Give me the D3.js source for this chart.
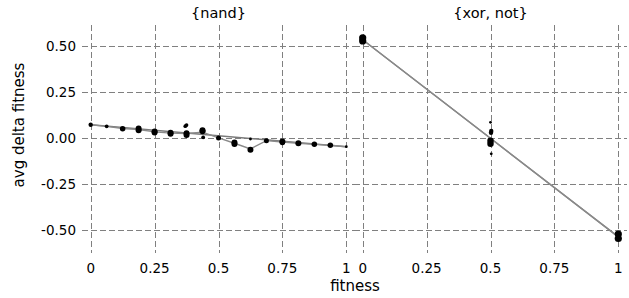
<!DOCTYPE html>
<html>
<head>
<meta charset="utf-8">
<script src="https://cdn.jsdelivr.net/npm/d3@7"></script>
<style>
  body { margin: 0; background: #fff; }
  text { font-family: "DejaVu Sans", Verdana, sans-serif; fill: #000; }
</style>
</head>
<body>
<div class="chart"></div>
<script>
// panel titles
const panels = ['{nand}', '{xor, not}'];
const xTicks = [0, 0.25, 0.5, 0.75, 1];
const xTickLabels = ['0', '0.25', '0.5', '0.75', '1'];
const yTicks = [0.5, 0.25, 0, -0.25, -0.5];
const yTickLabels = ['0.50', '0.25', '0.00', '-0.25', '-0.50'];

// {nand}: fitness levels, mean delta per level (polyline)
const nandFitness = [0, 0.0625, 0.125, 0.1875, 0.25, 0.3125, 0.375, 0.4375, 0.5,
  0.5625, 0.625, 0.6875, 0.75, 0.8125, 0.875, 0.9375, 1];
const nandMean = [0.074, 0.065, 0.053, 0.048, 0.035, 0.028, 0.026, 0.033, 0.002,
  -0.027, -0.058, -0.013, -0.020, -0.027, -0.033, -0.038, -0.046];
// individual points: fitness, delta, count
const nandPtX = [0, 0.0625, 0.125, 0.1875, 0.1875, 0.25, 0.25, 0.3125, 0.3125, 0.375, 0.375, 0.375, 0.37,
  0.4375, 0.4375, 0.44, 0.5, 0.5625, 0.5625, 0.625, 0.625, 0.6875, 0.75, 0.75, 0.8125, 0.875, 0.9375, 1];
const nandPtY = [0.074, 0.065, 0.052, 0.053, 0.043, 0.037, 0.031, 0.030, 0.024, 0.027, 0.018, 0.072, 0.066,
  0.044, 0.038, 0.005, 0.002, -0.023, -0.031, -0.062, -0.004, -0.013, -0.017, -0.023, -0.027, -0.033, -0.038, -0.046];
const nandPtN = [3, 2, 5, 6, 6, 6, 6, 6, 6, 6, 6, 2, 2, 6, 6, 2, 4, 6, 6, 6, 1, 4, 6, 5, 6, 5, 5, 1];
// linear fit end values at fitness 0 and 1
const nandFit = [0.074, -0.046];

// {xor, not}
const xorMeanX = [0, 0.5, 1];
const xorMean = [0.537, 0.0, -0.537];
const xorPtX = [0, 0, 0.5, 0.503, 0.502, 0.5, 0.5, 0.503, 1, 1];
const xorPtY = [0.547, 0.530, 0.087, 0.040, 0.030, -0.013, -0.030, -0.085, -0.522, -0.546];
const xorPtN = [9, 9, 1, 3, 3, 7, 7, 1, 9, 9];
const xorFit = [0.537, -0.537];

const width = 629, height = 298;
const svg = d3.select('.chart').append('svg')
  .attr('width', width)
  .attr('height', height);

const plotTop = 25, plotBottom = 253;
const yScale = d3.scaleLinear()
  .domain([-0.625, 0.617])
  .range([plotBottom, plotTop]);
const rScale = d3.scaleSqrt()
  .domain([1, 9])
  .range([1.4, 3.6]);

const panelData = [
  {title: panels[0], range: [82, 355], mx: nandFitness, my: nandMean, px: nandPtX, py: nandPtY, pn: nandPtN, fit: nandFit},
  {title: panels[1], range: [354, 627], mx: xorMeanX, my: xorMean, px: xorPtX, py: xorPtY, pn: xorPtN, fit: xorFit}
];

panelData.forEach(p => {
  const xScale = d3.scaleLinear().domain([-0.034, 1.034]).range(p.range);
  const g = svg.append('g');

  // grid
  g.selectAll('.hgrid').data(yTicks).enter().append('line')
    .attr('x1', p.range[0]).attr('x2', p.range[1])
    .attr('y1', d => Math.round(yScale(d)) + 0.5).attr('y2', d => Math.round(yScale(d)) + 0.5)
    .attr('stroke', '#808080').attr('stroke-dasharray', '6,3');
  g.selectAll('.vgrid').data(xTicks).enter().append('line')
    .attr('x1', d => Math.round(xScale(d)) + 0.5).attr('x2', d => Math.round(xScale(d)) + 0.5)
    .attr('y1', plotTop).attr('y2', plotBottom)
    .attr('stroke', '#808080').attr('stroke-dasharray', '6,3');

  // x tick labels
  g.selectAll('.xt').data(xTicks).enter().append('text')
    .text((d, i) => xTickLabels[i])
    .attr('x', d => xScale(d))
    .attr('y', 273)
    .attr('text-anchor', 'middle')
    .attr('font-size', 13.5);

  // title
  g.append('text')
    .text(p.title)
    .attr('x', xScale(0.5))
    .attr('y', 18)
    .attr('text-anchor', 'middle')
    .attr('font-size', 14.5);

  // linear fit
  g.append('line')
    .attr('x1', xScale(0)).attr('y1', yScale(p.fit[0]))
    .attr('x2', xScale(1)).attr('y2', yScale(p.fit[1]))
    .attr('stroke', '#7a7a7a').attr('stroke-width', 1.4);

  // mean polyline
  const line = d3.line().x(d => xScale(d[0])).y(d => yScale(d[1]));
  g.append('path')
    .datum(p.mx.map((x, i) => [x, p.my[i]]))
    .attr('d', line)
    .attr('fill', 'none')
    .attr('stroke', '#8a8a8a').attr('stroke-width', 1.4);

  // points
  g.selectAll('circle').data(p.px.map((x, i) => [x, p.py[i], p.pn[i]])).enter().append('circle')
    .attr('cx', d => xScale(d[0]))
    .attr('cy', d => yScale(d[1]))
    .attr('r', d => rScale(d[2]))
    .attr('fill', '#000');
});

// y tick labels
svg.selectAll('.yt').data(yTicks).enter().append('text')
  .text((d, i) => yTickLabels[i])
  .attr('x', 76)
  .attr('y', d => yScale(d) + 5)
  .attr('text-anchor', 'end')
  .attr('font-size', 13.5);

svg.append('text')
  .text('fitness')
  .attr('x', 355)
  .attr('y', 291)
  .attr('text-anchor', 'middle')
  .attr('font-size', 15);

svg.append('text')
  .text('avg delta fitness')
  .attr('transform', 'translate(24,125) rotate(-90)')
  .attr('text-anchor', 'middle')
  .attr('font-size', 15);
</script>
</body>
</html>
